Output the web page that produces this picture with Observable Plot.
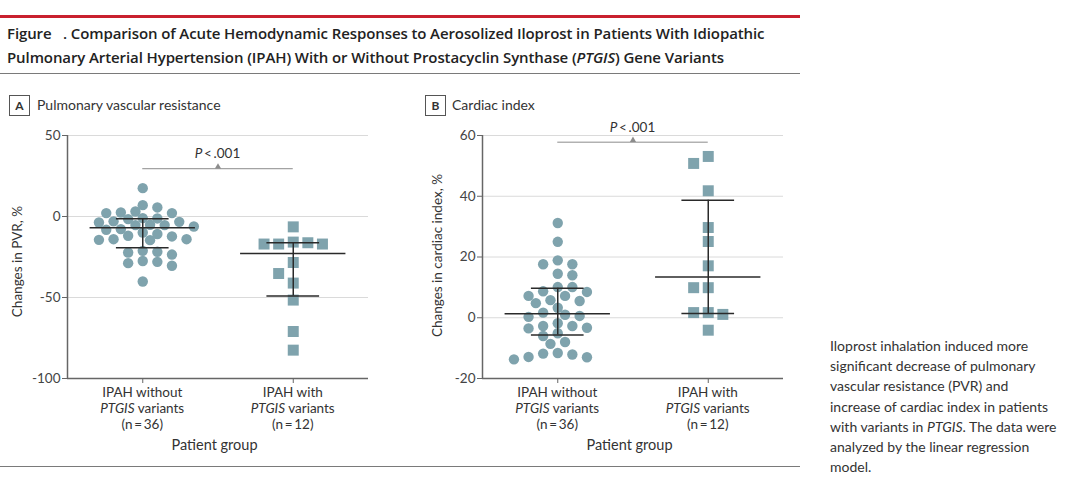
<!DOCTYPE html>
<html><head><meta charset="utf-8">
<script src="https://cdn.jsdelivr.net/npm/d3@7"></script>
<script src="https://cdn.jsdelivr.net/npm/@observablehq/plot@0.6"></script>
<style>
body{margin:0;width:1080px;height:479px;background:#fff;position:relative;overflow:hidden;font-family:Lato,sans-serif;color:#333}
.abs{position:absolute}
#redline{left:0;top:15px;width:800px;height:3px;background:#c9202f}
.title{left:7px;font-family:"Open Sans",sans-serif;font-weight:600;font-size:15px;letter-spacing:-0.1px;line-height:24px;color:#222;white-space:pre}
#rule1{left:0;top:73px;width:800px;height:1px;background:#7a7a7a}
#rule2{left:0;top:466px;width:800px;height:1px;background:#7a7a7a}
.box{width:19px;height:19px;border:1px solid #555;font-weight:700;font-size:12px;line-height:19px;text-align:center;color:#333}
.ptitle{font-size:14px;color:#333}
#caption{left:830px;top:336px;width:250px;font-size:14px;line-height:20.2px;color:#333;white-space:nowrap}
.panel{top:120px}
</style></head>
<body>
<div id="redline" class="abs"></div>
<div class="abs title" style="top:21px">Figure   . Comparison of Acute Hemodynamic Responses to Aerosolized Iloprost in Patients With Idiopathic</div>
<div class="abs title" style="top:45px">Pulmonary Arterial Hypertension (IPAH) With or Without Prostacyclin Synthase (<i>PTGIS</i>) Gene Variants</div>
<div id="rule1" class="abs"></div>
<div class="abs box" style="left:9px;top:95px">A</div>
<div class="abs ptitle" style="left:37px;top:96px">Pulmonary vascular resistance</div>
<div class="abs box" style="left:425px;top:95px">B</div>
<div class="abs ptitle" style="left:452px;top:96px">Cardiac index</div>
<div id="panelA" class="abs panel" style="left:0"></div>
<div id="panelB" class="abs panel" style="left:400px"></div>
<div id="caption" class="abs">Iloprost inhalation induced more<br>significant decrease of pulmonary<br>vascular resistance (PVR) and<br>increase of cardiac index in patients<br>with variants in <i>PTGIS</i>. The data were<br>analyzed by the linear regression<br>model.</div>
<div id="rule2" class="abs"></div>
<script>
// ---- data ----
const groupLine1 = ["IPAH without", "IPAH with"];
const groupN = [36, 12];
const pvrWithout = [17.5, 7.0, 5.6, 3.1, 2.5, 2.1, 2.1, -1.0, -1.2, -1.6, -3.0, -3.3, -3.7, -5.1, -5.3, -5.3, -6.2, -7.8, -8.2, -9.9, -10.8, -11.9, -12.3, -14.0, -14.0, -14.4, -14.6, -21.2, -21.8, -22.2, -23.5, -27.5, -28.0, -28.8, -30.4, -40.1];
const pvrWith = [-6.4, -15.8, -16.2, -17.0, -17.0, -17.0, -28.4, -35.2, -41.1, -51.6, -71.0, -82.5];
const ciWithout = [31.2, 25.0, 18.9, 17.6, 17.6, 14.5, 14.0, 10.1, 10.1, 8.7, 8.5, 7.2, 7.2, 5.8, 5.5, 4.8, 3.3, 1.7, 1.0, 0.6, 0.3, -1.8, -2.7, -2.7, -3.3, -3.5, -5.1, -6.0, -8.0, -8.6, -11.6, -11.8, -12.1, -12.9, -13.0, -13.7];
const ciWith = [53.1, 50.8, 41.8, 29.7, 25.1, 17.1, 9.9, 9.9, 1.7, 1.7, 1.1, -4.1];
const pvrMedian = [-7.0, -22.8], pvrQ1 = [-19.3, -49.0], pvrQ3 = [-1.4, -16.2];
const ciMedian = [1.3, 13.4], ciQ1 = [-5.7, 1.4], ciQ3 = [9.7, 38.7];
const pvrTicks = [50, 0, -50, -100];
const ciTicks = [60, 40, 20, 0, -20];
const pText = ".001";

// ---- layout helpers ----
function swarm(values, yS, step, minDist, square) {
  const placed = [], out = new Array(values.length);
  const order = values.map((v, i) => i).sort((a, b) => values[b] - values[a]);
  order.forEach((i, n) => {
    const py = yS(values[i]);
    for (let k = 0; k < 60; k++) {
      const s = n % 2 ? -1 : 1;
      const cands = k === 0 ? [0] : [s * k * step, -s * k * step];
      const c = cands.find(c => placed.every(p => square
        ? Math.max(Math.abs(p.x - c), Math.abs(p.y - py)) >= minDist
        : Math.hypot(p.x - c, p.y - py) >= minDist));
      if (c !== undefined) { placed.push({x: c, y: py}); out[i] = c; break; }
    }
  });
  return out;
}

function panel(el, cfg) {
  const W = 400, H = 340, mt = 15, mb = 82;
  const yS = d3.scaleLinear().domain(cfg.yDomain).range([H - mb, mt]);
  const xS = d3.scaleLinear().domain([0.5, 2.5]).range([cfg.ml, W - cfg.mr]);
  const pxX = xS(1) - xS(0);
  const circles = [], squares = [];
  cfg.series.forEach((vals, g) => {
    const off = swarm(vals, yS, 7.3, g === 0 ? 9.4 : 11.2, g === 1);
    vals.forEach((v, i) => (g === 0 ? circles : squares).push({x: g + 1 + off[i] / pxX, v}));
  });
  const summary = [0, 1].map(g => ({x: g + 1, mid: cfg.mid[g], lo: cfg.lo[g], hi: cfg.hi[g]}));
  const ink = "#2a2a2a", fillC = "#7fa3ad";
  const chart = Plot.plot({
    width: W, height: H, marginLeft: cfg.ml, marginRight: cfg.mr, marginTop: mt, marginBottom: mb,
    x: {domain: [0.5, 2.5], axis: null},
    y: {domain: cfg.yDomain, axis: null},
    style: {fontFamily: "Lato, sans-serif", fontSize: "13.5px", color: "#444", background: "transparent", overflow: "visible"},
    marks: [
      Plot.gridY(cfg.ticks, {stroke: "#dadada", strokeOpacity: 1, strokeWidth: 1}),
      Plot.axisY(cfg.ticks, {tickSize: 5, tickPadding: 2, tickFormat: d => String(d), label: null, stroke: "#666", fill: "#444"}),
      Plot.axisX([1, 2], {tickSize: 5, tickFormat: () => "", label: null, stroke: "#666"}),
      Plot.ruleX([0.5], {stroke: "#666", strokeWidth: 1.5}),
      Plot.ruleY([cfg.yDomain[0]], {stroke: "#666", strokeWidth: 1.5}),
      Plot.ruleY([cfg.bracket], {x1: () => 1, x2: () => 2, stroke: "#8c8c8c", strokeWidth: 1}),
      Plot.dot([1.5], {x: d => d, y: () => cfg.bracket, symbol: "triangle", r: 2.3, fill: "#8c8c8c", dy: -2}),
      Plot.dot(circles, {x: "x", y: "v", r: 5.2, fill: fillC}),
      Plot.dot(squares, {x: "x", y: "v", symbol: "square", r: 6.2, fill: fillC}),
      Plot.ruleY(summary, {y: "mid", x1: d => d.x - 0.35, x2: d => d.x + 0.35, stroke: ink, strokeWidth: 1.5}),
      Plot.ruleY(summary, {y: "lo", x1: d => d.x - 0.175, x2: d => d.x + 0.175, stroke: ink, strokeWidth: 1.5}),
      Plot.ruleY(summary, {y: "hi", x1: d => d.x - 0.175, x2: d => d.x + 0.175, stroke: ink, strokeWidth: 1.5}),
      Plot.ruleX(summary, {x: "x", y1: "lo", y2: "hi", stroke: ink, strokeWidth: 1.5})
    ]
  });
  const svg = d3.select(chart);
  const xs = chart.scale("x"), ys = chart.scale("y");
  const g = svg.append("g").attr("font-family", "Lato, sans-serif").attr("fill", "#333");
  [0, 1].forEach(i => {
    const t = g.append("text").attr("text-anchor", "middle").attr("font-size", 13.5);
    const cx = xs.apply(i + 1), base = ys.apply(cfg.yDomain[0]);
    t.append("tspan").attr("x", cx).attr("y", base + 19).text(groupLine1[i]);
    const l2 = t.append("tspan").attr("x", cx).attr("y", base + 35);
    l2.append("tspan").attr("font-style", "italic").text("PTGIS");
    l2.append("tspan").text(" variants");
    t.append("tspan").attr("x", cx).attr("y", base + 51).text(`(n\u2009=\u2009${groupN[i]})`);
  });
  const midX = (xs.apply(0.5) + xs.apply(2.5)) / 2;
  g.append("text").attr("text-anchor", "middle").attr("font-size", 14.5)
    .attr("x", midX - 3).attr("y", ys.apply(cfg.yDomain[0]) + 72).text("Patient group");
  const pt = g.append("text").attr("text-anchor", "middle").attr("font-size", 13.5)
    .attr("x", xs.apply(1.5)).attr("y", ys.apply(cfg.bracket) - 10);
  pt.append("tspan").attr("font-style", "italic").text("P");
  pt.append("tspan").text(`\u2009<\u2009${pText}`);
  g.append("text").attr("text-anchor", "middle").attr("font-size", 13.5)
    .attr("transform", `translate(${cfg.labelX},${(ys.apply(cfg.yDomain[1]) + ys.apply(cfg.yDomain[0])) / 2 + cfg.labelDy}) rotate(-90)`)
    .attr("dy", "0.35em").text(cfg.yLabel);
  document.getElementById(el).append(chart);
}

panel("panelA", {yDomain: [-100, 50], ticks: pvrTicks, ml: 67, mr: 32, series: [pvrWithout, pvrWith],
  mid: pvrMedian, lo: pvrQ1, hi: pvrQ3, bracket: 29.5, labelX: 17, labelDy: 5, yLabel: "Changes in PVR, %"});
panel("panelB", {yDomain: [-20, 60], ticks: ciTicks, ml: 82, mr: 17, series: [ciWithout, ciWith],
  mid: ciMedian, lo: ciQ1, hi: ciQ3, bracket: 57.8, labelX: 37, labelDy: -1, yLabel: "Changes in cardiac index, %"});
</script>
</body></html>
